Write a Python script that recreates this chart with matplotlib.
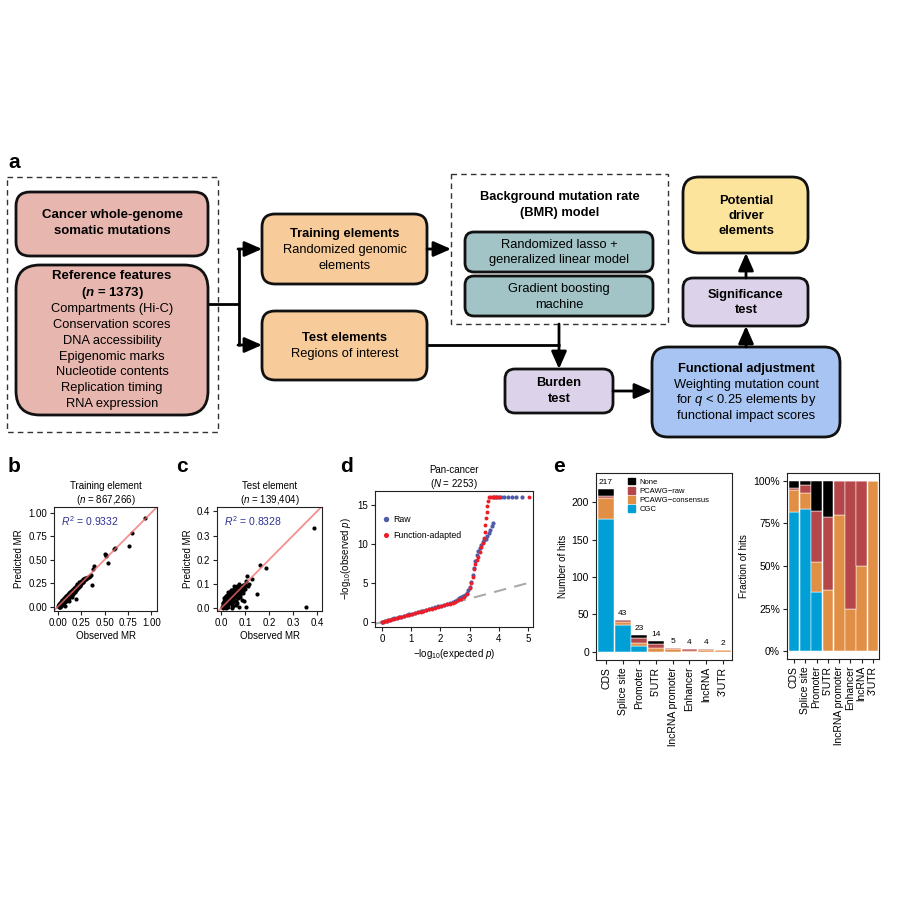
import matplotlib
matplotlib.use('Agg')
import matplotlib.pyplot as plt
from matplotlib.patches import FancyBboxPatch, Rectangle, Patch

plt.rcParams['font.family'] = ['Liberation Sans', 'DejaVu Sans']
plt.rcParams['mathtext.fontset'] = 'custom'
plt.rcParams['mathtext.rm'] = 'Liberation Sans'
plt.rcParams['mathtext.it'] = 'Liberation Sans:italic'
plt.rcParams['mathtext.bf'] = 'Liberation Sans:bold'
plt.rcParams['mathtext.bfit'] = 'Liberation Sans:italic:bold'

# ---- data -------------------------------------------------------------
# b: training elements (observed MR, predicted MR)
b_obs = [0.005, 0.010, 0.012, 0.015, 0.018, 0.020, 0.022, 0.025, 0.028, 0.030, 0.032, 0.035,
         0.038, 0.040, 0.042, 0.045, 0.048, 0.050, 0.052, 0.055, 0.058, 0.060, 0.062, 0.065,
         0.068, 0.070, 0.072, 0.075, 0.078, 0.080, 0.083, 0.085, 0.088, 0.090, 0.093, 0.095,
         0.098, 0.100, 0.103, 0.106, 0.110, 0.113, 0.116, 0.120, 0.124, 0.128, 0.131, 0.135,
         0.140, 0.144, 0.148, 0.152, 0.156, 0.160, 0.165, 0.170, 0.175, 0.180, 0.185, 0.190,
         0.196, 0.200, 0.207, 0.213, 0.220, 0.227, 0.235, 0.242, 0.250, 0.258, 0.265, 0.272,
         0.280, 0.290, 0.300, 0.310, 0.330, 0.350, 0.080, 0.120, 0.150,
         0.01, 0.02, 0.03, 0.04, 0.05, 0.06, 0.07, 0.08, 0.09, 0.10, 0.11, 0.12, 0.13, 0.14,
         0.15, 0.16, 0.17, 0.18, 0.19, 0.20, 0.21, 0.22, 0.23, 0.24, 0.25, 0.26, 0.27, 0.28,
         0.29, 0.30, 0.32, 0.34, 0.03, 0.05, 0.07, 0.09, 0.11, 0.13, 0.15, 0.17, 0.19, 0.21,
         0.23, 0.25, 0.27, 0.29, 0.02, 0.04, 0.06, 0.08, 0.10, 0.12, 0.14, 0.16, 0.18, 0.20,
         0.22, 0.24,
         0.20, 0.37, 0.38, 0.39, 0.50, 0.51, 0.52, 0.54, 0.60, 0.61, 0.76, 0.79, 0.93]
b_pred = [0.010, 0.002, 0.020, 0.008, 0.030, 0.012, 0.002, 0.035, 0.018, 0.040, 0.025, 0.010,
          0.048, 0.030, 0.055, 0.038, 0.020, 0.060, 0.045, 0.068, 0.050, 0.035, 0.075, 0.058,
          0.080, 0.065, 0.050, 0.090, 0.072, 0.098, 0.080, 0.065, 0.105, 0.088, 0.112, 0.095,
          0.080, 0.118, 0.105, 0.125, 0.112, 0.095, 0.135, 0.120, 0.142, 0.128, 0.110, 0.152,
          0.140, 0.160, 0.145, 0.130, 0.170, 0.158, 0.180, 0.165, 0.188, 0.175, 0.198, 0.185,
          0.205, 0.195, 0.215, 0.205, 0.228, 0.218, 0.245, 0.232, 0.255, 0.262, 0.258, 0.275,
          0.285, 0.292, 0.298, 0.305, 0.320, 0.335, 0.010, 0.060, 0.100,
          0.015, 0.025, 0.022, 0.045, 0.040, 0.070, 0.075, 0.070, 0.100, 0.090, 0.125, 0.110,
          0.140, 0.130, 0.165, 0.150, 0.180, 0.190, 0.175, 0.210, 0.220, 0.215, 0.240, 0.250,
          0.245, 0.270, 0.268, 0.290, 0.300, 0.310, 0.315, 0.330, 0.050, 0.075, 0.095, 0.115,
          0.140, 0.160, 0.180, 0.200, 0.220, 0.240, 0.260, 0.275, 0.290, 0.310, 0.000, 0.015,
          0.040, 0.055, 0.075, 0.095, 0.115, 0.135, 0.155, 0.175, 0.200, 0.220,
          0.08, 0.23, 0.40, 0.43, 0.56, 0.55, 0.54, 0.46, 0.61, 0.62, 0.65, 0.78, 0.94]

# c: test elements (observed MR, predicted MR)
c_obs = [0.002, 0.005, 0.006, 0.008, 0.010, 0.012, 0.013, 0.015, 0.016, 0.018, 0.020, 0.021,
         0.023, 0.025, 0.026, 0.028, 0.030, 0.031, 0.033, 0.035, 0.036, 0.038, 0.040, 0.041,
         0.043, 0.045, 0.046, 0.048, 0.050, 0.052, 0.054, 0.056, 0.058, 0.060, 0.062, 0.064,
         0.066, 0.068, 0.070, 0.072, 0.074, 0.076, 0.078, 0.080, 0.083, 0.086, 0.090, 0.094,
         0.098, 0.060, 0.070, 0.080, 0.090, 0.050, 0.065, 0.040, 0.030, 0.020, 0.010, 0.055,
         0.005, 0.010, 0.015, 0.020, 0.025, 0.030, 0.035, 0.040, 0.045, 0.050, 0.055, 0.060,
         0.065, 0.070, 0.075, 0.080, 0.085, 0.090, 0.095, 0.100, 0.015, 0.025, 0.035, 0.045,
         0.055, 0.065, 0.075, 0.020, 0.030, 0.040, 0.050, 0.060, 0.070, 0.080, 0.090, 0.100,
         0.110, 0.045, 0.060, 0.085, 0.115, 0.105,
         0.075, 0.095, 0.105, 0.107, 0.128, 0.149, 0.160, 0.185, 0.354, 0.386]
c_pred = [0.004, 0.012, 0.000, 0.020, 0.006, 0.028, 0.015, 0.002, 0.035, 0.022, 0.010, 0.040,
          0.028, 0.015, 0.045, 0.032, 0.005, 0.050, 0.038, 0.022, 0.055, 0.042, 0.030, 0.060,
          0.046, 0.012, 0.065, 0.052, 0.038, 0.070, 0.058, 0.045, 0.075, 0.062, 0.050, 0.080,
          0.068, 0.055, 0.085, 0.072, 0.060, 0.088, 0.078, 0.065, 0.092, 0.082, 0.095, 0.088,
          0.100, 0.030, 0.040, 0.045, 0.060, 0.010, 0.020, 0.075, 0.065, 0.050, 0.040, 0.090,
          0.020, 0.025, 0.030, 0.030, 0.035, 0.045, 0.030, 0.050, 0.040, 0.055, 0.050, 0.070,
          0.060, 0.065, 0.080, 0.085, 0.070, 0.090, 0.085, 0.095, 0.045, 0.055, 0.065, 0.075,
          0.080, 0.090, 0.098, 0.000, 0.015, 0.020, 0.025, 0.045, 0.050, 0.055, 0.070, 0.080,
          0.090, 0.000, 0.012, 0.035, 0.100, 0.110,
          0.005, 0.030, 0.002, 0.132, 0.120, 0.056, 0.178, 0.164, 0.004, 0.333]

# d: QQ plot, -log10 expected vs observed p
raw_exp = [0.00, 0.05, 0.10, 0.16, 0.22, 0.28, 0.35, 0.42, 0.50, 0.58, 0.66, 0.75, 0.84, 0.93,
           1.02, 1.12, 1.22, 1.32, 1.42, 1.52, 1.62, 1.72, 1.82, 1.92, 2.02, 2.12, 2.22, 2.32,
           2.42, 2.50, 2.58, 2.65, 2.72, 2.78, 2.84, 2.90, 2.95, 3.00, 3.05, 3.10, 3.15, 3.20,
           3.25, 3.30, 3.35, 3.40, 3.45, 3.50, 3.55, 3.60, 3.65, 3.70, 3.75, 3.80,
           3.85, 3.92, 4.00, 4.08, 4.18, 4.30, 4.45, 4.60, 4.80]
raw_obs = [0.00, 0.06, 0.12, 0.18, 0.25, 0.31, 0.38, 0.46, 0.54, 0.62, 0.70, 0.79, 0.88, 0.97,
           1.06, 1.16, 1.26, 1.37, 1.47, 1.57, 1.68, 1.78, 1.89, 2.00, 2.11, 2.22, 2.35, 2.48,
           2.62, 2.74, 2.88, 3.02, 3.18, 3.34, 3.52, 3.75, 4.05, 4.45, 5.10, 6.00, 6.90, 7.80,
           8.60, 9.10, 9.50, 9.90, 10.2, 10.5, 10.7, 11.0, 11.4, 11.8, 12.3, 12.7,
           16.0, 16.0, 16.0, 16.0, 16.0, 16.0, 16.0, 16.0, 16.0]
fa_exp = [0.00, 0.05, 0.10, 0.16, 0.22, 0.28, 0.35, 0.42, 0.50, 0.58, 0.66, 0.75, 0.84, 0.93,
          1.02, 1.12, 1.22, 1.32, 1.42, 1.52, 1.62, 1.72, 1.82, 1.92, 2.02, 2.12, 2.22, 2.32,
          2.42, 2.50, 2.60, 2.70, 2.80, 2.90, 3.00, 3.05, 3.10, 3.15, 3.20, 3.25, 3.30, 3.35,
          3.40, 3.45, 3.48, 3.51, 3.54, 3.56, 3.58, 3.60, 3.62,
          3.65, 3.70, 3.75, 3.80, 3.85, 3.90, 3.95, 4.00, 5.05]
fa_obs = [0.00, 0.05, 0.10, 0.16, 0.22, 0.28, 0.35, 0.42, 0.50, 0.58, 0.66, 0.75, 0.84, 0.93,
          1.02, 1.12, 1.22, 1.32, 1.42, 1.53, 1.63, 1.73, 1.83, 1.94, 2.04, 2.14, 2.25, 2.36,
          2.48, 2.62, 2.80, 3.00, 3.25, 3.60, 4.30, 5.00, 5.80, 6.80, 7.40, 7.90, 8.40, 9.00,
          9.60, 10.1, 10.8, 11.6, 12.5, 13.3, 14.1, 14.9, 15.5,
          16.0, 16.0, 16.0, 16.0, 16.0, 16.0, 16.0, 16.0, 16.0]

# e: driver hits per element type
elements = ['CDS', 'Splice site', 'Promoter', "5'UTR", 'lncRNA promoter', 'Enhancer', 'lncRNA', "3'UTR"]
hits_cgc = [178, 36, 8, 0, 0, 0, 0, 0]
hits_consensus = [28, 4, 4, 5, 4, 1, 2, 2]
hits_raw = [2, 2, 7, 6, 1, 3, 2, 0]
hits_none = [9, 1, 4, 3, 0, 0, 0, 0]

col_cgc = '#00A0D6'
col_cons = '#E18F45'
col_raw = '#B5474B'
col_none = '#000000'

# ---- figure -----------------------------------------------------------
fig = plt.figure(figsize=(9, 9), dpi=100)


def px_axes(l, t, r, b):
    return fig.add_axes([l / 900, 1 - b / 900, (r - l) / 900, (b - t) / 900])


ax0 = fig.add_axes([0, 0, 1, 1])
ax0.set_xlim(0, 900)
ax0.set_ylim(900, 0)
ax0.axis('off')


def box(x0, y0, x1, y1, fc, r=12):
    ax0.add_patch(FancyBboxPatch((x0, y0), x1 - x0, y1 - y0,
                                 boxstyle='round,pad=0,rounding_size=%g' % r,
                                 fc=fc, ec='#111111', lw=2, zorder=2))


def lines(x, ys, texts, bold_n=0, fs=9.3):
    for i, (y, s) in enumerate(zip(ys, texts)):
        ax0.text(x, y, s, ha='center', va='center', fontsize=fs,
                 weight='bold' if i < bold_n else 'normal', zorder=3)


def arrow(x0, y0, x1, y1):
    ax0.annotate('', xy=(x1, y1), xytext=(x0, y0), zorder=4,
                 arrowprops=dict(arrowstyle='-|>,head_length=0.75,head_width=0.33',
                                 mutation_scale=14, lw=2, color='k',
                                 shrinkA=0, shrinkB=0))


def seg(xs, ys):
    ax0.plot(xs, ys, color='k', lw=2, solid_capstyle='butt', zorder=1)


ax0.text(8, 163, 'a', fontsize=15, weight='bold', va='center')
ax0.add_patch(Rectangle((7, 177), 211, 255, fill=False, ec='#333333', lw=1, ls=(0, (4, 3))))
box(16, 192, 208, 256, '#E7B7AF', r=14)
lines(112, [215, 231], ['Cancer whole-genome', 'somatic mutations'], bold_n=2, fs=9.5)
box(16, 265, 208, 415, '#E7B7AF', r=24)
lines(112, [276, 293], ['Reference features', r'($\mathbfit{n}$ = 1373)'], bold_n=2, fs=9.5)
lines(112, [309, 325, 341, 357, 372, 388, 404],
      ['Compartments (Hi-C)', 'Conservation scores', 'DNA accessibility', 'Epigenomic marks',
       'Nucleotide contents', 'Replication timing', 'RNA expression'])

seg([208, 239], [304, 304])
seg([239, 239], [248, 346])
arrow(238, 249, 262, 249)
arrow(238, 345, 262, 345)

box(262, 214, 427, 284, '#F8CC9A', r=13)
lines(345, [234, 250, 266], ['Training elements', 'Randomized genomic', 'elements'], bold_n=1)
box(262, 311, 427, 380, '#F8CC9A', r=13)
lines(345, [338, 354], ['Test elements', 'Regions of interest'], bold_n=1)
arrow(427, 249, 451, 249)

ax0.add_patch(Rectangle((451, 174), 217, 150, fill=False, ec='#333333', lw=1, ls=(0, (4, 3))))
lines(560, [197, 213], ['Background mutation rate', '(BMR) model'], bold_n=2)
box(465, 232, 653, 272, '#A2C4C6', r=9)
lines(559, [245, 260], ['Randomized lasso +', 'generalized linear model'])
box(465, 276, 653, 316, '#A2C4C6', r=9)
lines(559, [289, 305], ['Gradient boosting', 'machine'])

seg([427, 560], [345, 345])
arrow(559, 324, 559, 369)
box(505, 369, 613, 413, '#DCD3EA', r=10)
lines(559, [383, 399], ['Burden', 'test'], bold_n=2)
arrow(613, 391, 652, 391)

box(652, 347, 840, 437, '#A7C4F2', r=16)
lines(746, [369, 385, 400, 416],
      ['Functional adjustment', 'Weighting mutation count', r'for $q$ < 0.25 elements by',
       'functional impact scores'], bold_n=1)
arrow(746, 347, 746, 326)
box(683, 278, 808, 326, '#DCD3EA', r=10)
lines(746, [295, 310], ['Significance', 'test'], bold_n=2)
arrow(746, 278, 746, 253)
box(683, 177, 808, 253, '#FCE49C', r=16)
lines(746, [201, 216, 231], ['Potential', 'driver', 'elements'], bold_n=3)

for lab, x, y in [('b', 8, 467), ('c', 176, 467), ('d', 340, 467), ('e', 553, 467)]:
    ax0.text(x, y, lab, fontsize=15, weight='bold', va='center')


def style(ax, ls=7):
    for sp in ax.spines.values():
        sp.set_linewidth(0.8)
        sp.set_color('#222222')
    ax.tick_params(direction='out', length=3, width=0.8, labelsize=ls, pad=2, color='#222222')


# ---- b ----
axb = px_axes(54, 507, 157, 611)
axb.plot(b_obs, b_pred, 'o', color='k', ms=3.0, mew=0)
axb.plot([-0.05, 1.1], [-0.05, 1.1], color='#F26B6B', lw=1.3, alpha=0.75)
axb.set_xlim(-0.04, 1.06)
axb.set_ylim(-0.045, 1.06)
axb.set_xticks([0, 0.25, 0.5, 0.75, 1.0])
axb.set_yticks([0, 0.25, 0.5, 0.75, 1.0])
axb.set_xticklabels(['0.00', '0.25', '0.50', '0.75', '1.00'])
axb.set_yticklabels(['0.00', '0.25', '0.50', '0.75', '1.00'])
axb.set_xlabel('Observed MR', fontsize=7, labelpad=2)
axb.set_ylabel('Predicted MR', fontsize=7, labelpad=3)
axb.set_title('Training element\n($n$ = 867,266)', fontsize=7, pad=3, linespacing=1.15)
axb.text(0.07, 0.82, r'$R^2$ = 0.9332', transform=axb.transAxes, color='#2E3192', fontsize=7.5)
style(axb)

# ---- c ----
axc = px_axes(217, 507, 322, 611)
axc.plot(c_obs, c_pred, 'o', color='k', ms=3.0, mew=0)
axc.plot([-0.05, 0.45], [-0.05, 0.45], color='#F26B6B', lw=1.3, alpha=0.75)
axc.set_xlim(-0.018, 0.421)
axc.set_ylim(-0.0125, 0.418)
axc.set_xticks([0, 0.1, 0.2, 0.3, 0.4])
axc.set_yticks([0, 0.1, 0.2, 0.3, 0.4])
axc.set_xticklabels(['0.0', '0.1', '0.2', '0.3', '0.4'])
axc.set_yticklabels(['0.0', '0.1', '0.2', '0.3', '0.4'])
axc.set_xlabel('Observed MR', fontsize=7, labelpad=2)
axc.set_ylabel('Predicted MR', fontsize=7, labelpad=3)
axc.set_title('Test element\n($n$ = 139,404)', fontsize=7, pad=3, linespacing=1.15)
axc.text(0.07, 0.82, r'$R^2$ = 0.8328', transform=axc.transAxes, color='#2E3192', fontsize=7.5)
style(axc)

# ---- d ----
axd = px_axes(375, 491, 533, 627)
axd.plot([-0.3, 5.3], [-0.3, 5.3], color='#AAAAAA', lw=1.5, ls=(0, (6, 4)), zorder=1)
axd.plot(raw_exp, raw_obs, 'o', color='#4F5BA8', ms=3.0, mew=0, label='Raw', zorder=2)
axd.plot(fa_exp, fa_obs, 'o', color='#EE1C25', ms=2.8, mew=0, label='Function-adapted', zorder=3)
axd.set_xlim(-0.24, 5.17)
axd.set_ylim(-0.64, 16.8)
axd.set_xticks([0, 1, 2, 3, 4, 5])
axd.set_yticks([0, 5, 10, 15])
axd.set_xlabel(r'$-$log$_{10}$(expected $p$)', fontsize=7, labelpad=2)
axd.set_ylabel(r'$-$log$_{10}$(observed $p$)', fontsize=7, labelpad=3)
axd.set_title('Pan-cancer\n($N$ = 2253)', fontsize=7, pad=3, linespacing=1.15)
axd.legend(loc='upper left', bbox_to_anchor=(0.0, 0.88), frameon=False, fontsize=6.3,
           handlelength=0.8, handletextpad=0.4, labelspacing=0.8, markerscale=1.3)
style(axd)

# ---- e (counts) ----
axe = px_axes(596, 473, 732, 660)
xs = list(range(len(elements)))
bottom = [0] * len(elements)
for vals, col in [(hits_cgc, col_cgc), (hits_consensus, col_cons), (hits_raw, col_raw), (hits_none, col_none)]:
    axe.bar(xs, vals, bottom=bottom, color=col, width=0.95, edgecolor='white', lw=0.35)
    bottom = [b + v for b, v in zip(bottom, vals)]
for x, t in zip(xs, bottom):
    axe.text(x, t + 4, str(t), ha='center', va='bottom', fontsize=6)
axe.set_xlim(-0.6, 7.55)
axe.set_ylim(-10.7, 238.7)
axe.set_yticks([0, 50, 100, 150, 200])
axe.set_xticks(xs)
axe.set_xticklabels(elements, rotation=90)
axe.set_ylabel('Number of hits', fontsize=7, labelpad=3)
handles = [Patch(color=col_none), Patch(color=col_raw), Patch(color=col_cons), Patch(color=col_cgc)]
axe.legend(handles, ['None', 'PCAWG\u2212raw', 'PCAWG\u2212consensus', 'CGC'], loc='upper left',
           bbox_to_anchor=(0.2, 1.0), frameon=False, fontsize=5.5, handlelength=1.0,
           handleheight=1.0, handletextpad=0.5, labelspacing=0.15, borderaxespad=0.2)
style(axe, ls=7.5)

# ---- e (fractions) ----
axf = px_axes(787, 473, 879, 659)
totals = bottom
bottom = [0.0] * len(elements)
for vals, col in [(hits_cgc, col_cgc), (hits_consensus, col_cons), (hits_raw, col_raw), (hits_none, col_none)]:
    frac = [v / t for v, t in zip(vals, totals)]
    axf.bar(xs, frac, bottom=bottom, color=col, width=0.95, edgecolor='white', lw=0.35)
    bottom = [b + f for b, f in zip(bottom, frac)]
axf.set_xlim(-0.62, 7.53)
axf.set_ylim(-0.047, 1.047)
axf.set_yticks([0, 0.25, 0.5, 0.75, 1.0])
axf.set_yticklabels(['0%', '25%', '50%', '75%', '100%'])
axf.set_xticks(xs)
axf.set_xticklabels(elements, rotation=90)
axf.set_ylabel('Fraction of hits', fontsize=7, labelpad=3)
style(axf, ls=7.5)

fig.savefig('out.png', dpi=100)
